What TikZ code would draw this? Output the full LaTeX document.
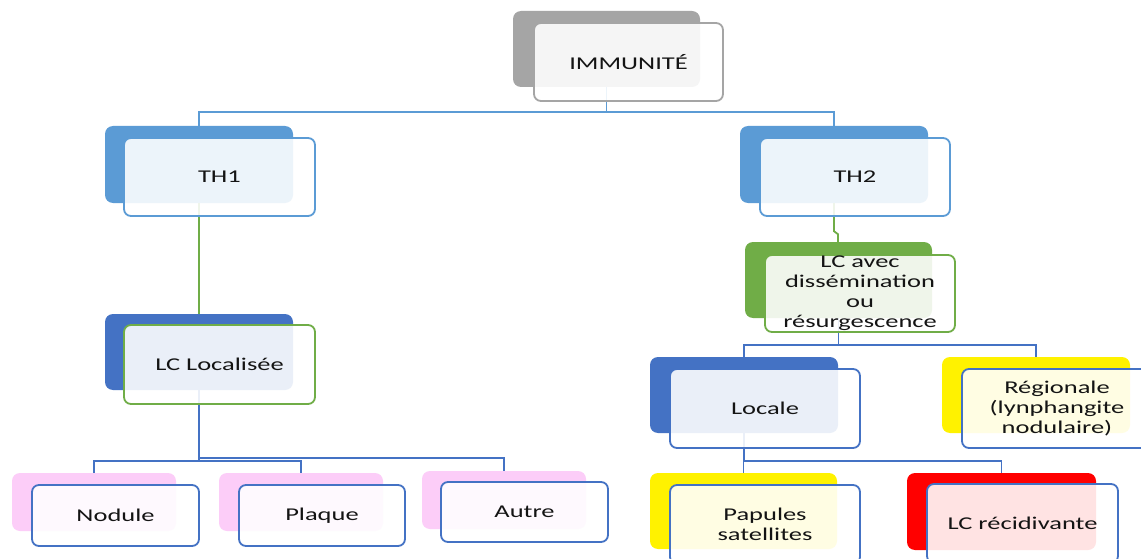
\documentclass[tikz,border=0pt]{standalone}
\usepackage{fontspec}
\setmainfont{Carlito}[FakeStretch=1.47]
\definecolor{lblue}{HTML}{5B9BD5}
\definecolor{dblue}{HTML}{4472C4}
\definecolor{ogreen}{HTML}{70AD47}
\definecolor{ogray}{HTML}{A5A5A5}
\definecolor{opink}{HTML}{FCCDF8}
\definecolor{txt}{HTML}{141414}
\tikzset{
  backbox/.style={rectangle, rounded corners=8pt, inner sep=0pt, draw=none},
  frontbox/.style={rectangle, rounded corners=7pt, inner sep=0pt, line width=1.8pt,
    fill=white, fill opacity=0.89, text opacity=1, text=txt, align=center,
    font=\fontsize{18}{20}\selectfont},
  link/.style={line width=1.8pt},
}
\begin{document}
\begin{tikzpicture}[x=1pt,y=-1pt]
\useasboundingbox[fill=white] (0,0) rectangle (1141,559);
% back boxes
\node[backbox, fill=ogray, minimum width=187, minimum height=76] (ib) at (606.5,49) {};
\node[backbox, fill=lblue, minimum width=188, minimum height=77] (th1b) at (199,164.5) {};
\node[backbox, fill=lblue, minimum width=188, minimum height=77] (th2b) at (834,164.5) {};
\node[backbox, fill=dblue, minimum width=188, minimum height=76] (locb) at (199,352) {};
\node[backbox, fill=ogreen, minimum width=187, minimum height=76] (avb) at (838.5,280) {};
\node[backbox, fill=dblue, minimum width=188, minimum height=76] (lob) at (744,395) {};
\node[backbox, fill=yellow, minimum width=188, minimum height=76] (rgb) at (1036,395) {};
\node[backbox, fill=yellow, minimum width=187, minimum height=76] (pab) at (743.5,511) {};
\node[backbox, fill=red, minimum width=189, minimum height=77] (rcb) at (1001.5,511.5) {};
\node[backbox, fill=opink, minimum width=164, minimum height=58] (nob) at (94,502) {};
\node[backbox, fill=opink, minimum width=164, minimum height=58] (plb) at (301,502) {};
\node[backbox, fill=opink, minimum width=164, minimum height=58] (aub) at (504,500) {};
% connectors
\draw[link, lblue] (ib.south) -- ++(0,25) -| (th1b.north);
\draw[link, lblue] (ib.south) -- ++(0,25) -| (th2b.north);
\draw[link, ogreen] (th1b.south) -- (locb.north);
\draw[link, ogreen] (th2b.south) -- ++(0,28) -- ++(4,3) |- (avb.north);
\draw[link, dblue] (avb.south) -- ++(0,27) -| (lob.north);
\draw[link, dblue] (avb.south) -- ++(0,27) -| (rgb.north);
\draw[link, dblue] (lob.south) -- ++(0,28) -| (pab.north);
\draw[link, dblue] (lob.south) -- ++(0,28) -| (rcb.north);
\draw[link, dblue] (locb.south) -- ++(0,71) -| (nob.north);
\draw[link, dblue] (locb.south) -- ++(0,71) -| (plb.north);
\draw[link, dblue] (locb.south) -- ++(0,68) -| (aub.north);
% front boxes
\node[frontbox, draw=ogray, minimum width=189, minimum height=78] (imm) at (628.5,62) {IMMUNITÉ};
\node[frontbox, draw=lblue, minimum width=191, minimum height=78] (th1) at (219.5,177) {TH1};
\node[frontbox, draw=lblue, minimum width=190, minimum height=78] (th2) at (855,177) {TH2};
\node[frontbox, draw=ogreen, minimum width=191, minimum height=79] (loc) at (219.5,364.5) {LC Localisée};
\node[frontbox, draw=ogreen, minimum width=190, minimum height=77] (av) at (860,293.5) {LC avec\\dissémination\\ou\\résurgescence};
\node[frontbox, draw=dblue, minimum width=190, minimum height=79] (lo) at (765,408.5) {Locale};
\node[frontbox, draw=dblue, minimum width=190, minimum height=79] (rg) at (1057,408.5) {Régionale\\(lynphangite\\nodulaire)};
\node[frontbox, draw=dblue, minimum width=190, minimum height=79] (pa) at (765,524.5) {Papules\\satellites};
\node[frontbox, draw=dblue, minimum width=191, minimum height=79] (rc) at (1022.5,523.5) {LC récidivante};
\node[frontbox, draw=dblue, minimum width=167, minimum height=61] (no) at (115.5,515.5) {Nodule};
\node[frontbox, draw=dblue, minimum width=166, minimum height=61] (pl) at (322,515.5) {Plaque};
\node[frontbox, draw=dblue, minimum width=167, minimum height=60] (au) at (524.5,512) {Autre};
\end{tikzpicture}
\end{document}
